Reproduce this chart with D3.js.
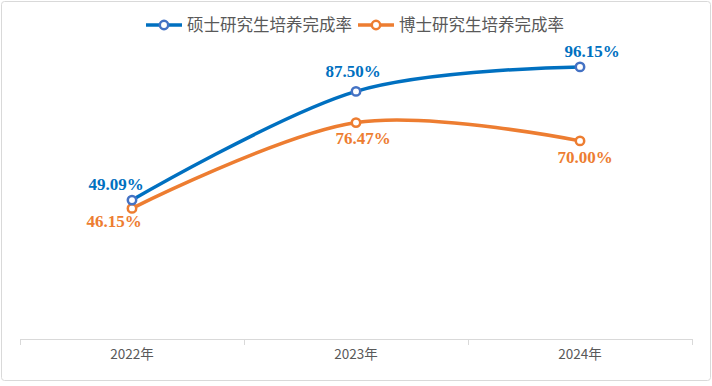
<!DOCTYPE html>
<html>
<head>
<meta charset="utf-8">
<script src="https://cdn.jsdelivr.net/npm/d3@7"></script>
<style>
  body { margin: 0; background: #fff; }
  #chart { width: 712px; height: 386px; }
  .x-axis .domain { stroke: #d9d9d9; }
  .x-axis text { fill: #595959; font-family: "Noto Sans CJK SC", "Noto Sans", sans-serif; font-size: 13.5px; }
</style>
</head>
<body>
<div id="chart"></div>
<script>
// data
var years = ["2022年", "2023年", "2024年"];
var seriesNames = ["硕士研究生培养完成率", "博士研究生培养完成率"];
var masterRate = [49.09, 87.50, 96.15];
var doctorRate = [46.15, 76.47, 70.00];

var width = 712, height = 386;
var margin = {top: 56, right: 20, bottom: 47, left: 20};

var svg = d3.select("#chart").append("svg")
    .attr("width", width)
    .attr("height", height);

// outer border
svg.append("rect")
    .attr("x", 1.5).attr("y", 1.5)
    .attr("width", width - 3).attr("height", 379)
    .attr("rx", 3)
    .attr("fill", "#fff")
    .attr("stroke", "#d9d9d9")
    .attr("stroke-width", 1);

// scales
var x = d3.scaleBand().domain(years).range([margin.left, width - margin.right]).padding(0);
var y = d3.scaleLinear().domain([0, 100]).range([height - margin.bottom, margin.top]);
var cx = function(d) { return x(d) + x.bandwidth() / 2; };

// x axis
var xAxis = d3.axisBottom(x).tickSize(0).tickPadding(10);
var axisG = svg.append("g")
    .attr("class", "x-axis")
    .attr("transform", "translate(0," + y(0) + ")")
    .call(xAxis);
axisG.select(".domain").attr("d", "M" + margin.left + ",0.5H" + (width - margin.right));

// boundary ticks between categories
var bounds = years.map(function(d) { return x(d); }).concat([x(years[years.length - 1]) + x.bandwidth()]);
axisG.selectAll("line.bound").data(bounds).enter().append("line")
    .attr("class", "bound")
    .attr("x1", function(d) { return Math.round(d) + 0.5; })
    .attr("x2", function(d) { return Math.round(d) + 0.5; })
    .attr("y1", 0).attr("y2", 6)
    .attr("stroke", "#d9d9d9");

var series = [
    {name: seriesNames[0], values: masterRate, color: "#0070C0", marker: "#4472C4",
     labelDx: [-16, -3, 12], labelDy: [-10, -14, -10]},
    {name: seriesNames[1], values: doctorRate, color: "#ED7D31", marker: "#ED7D31",
     labelDx: [-18, 7, 5], labelDy: [19, 21, 22]}
];

var line = d3.line()
    .x(function(d) { return cx(d.year); })
    .y(function(d) { return y(d.value); })
    .curve(d3.curveCardinal.tension(0));

// draw doctor first so master sits on top
series.slice().reverse().forEach(function(s) {
    var pts = years.map(function(yr, i) { return {year: yr, value: s.values[i]}; });
    svg.append("path")
        .datum(pts)
        .attr("fill", "none")
        .attr("stroke", s.color)
        .attr("stroke-width", 3.5)
        .attr("stroke-linecap", "round")
        .attr("d", line);
    svg.selectAll(null).data(pts).enter().append("circle")
        .attr("cx", function(d) { return cx(d.year); })
        .attr("cy", function(d) { return y(d.value); })
        .attr("r", 4.2)
        .attr("fill", "#fff")
        .attr("stroke", s.marker)
        .attr("stroke-width", 2.5);
    svg.selectAll(null).data(pts).enter().append("text")
        .attr("x", function(d, i) { return cx(d.year) + s.labelDx[i]; })
        .attr("y", function(d, i) { return y(d.value) + s.labelDy[i]; })
        .attr("text-anchor", "middle")
        .attr("fill", s.color)
        .style("font-family", "'Liberation Serif', 'Times New Roman', serif")
        .style("font-weight", "bold")
        .style("font-size", "17px")
        .text(function(d) { return d.value.toFixed(2) + "%"; });
});

// legend
var legend = svg.append("g").attr("class", "legend");
var lx = 146;
series.forEach(function(s) {
    var g = legend.append("g").attr("transform", "translate(" + lx + ",25)");
    g.append("line").attr("x1", 0).attr("x2", 36).attr("y1", 0).attr("y2", 0)
        .attr("stroke", s.color).attr("stroke-width", 3.5);
    g.append("circle").attr("cx", 18).attr("cy", 0).attr("r", 4.2)
        .attr("fill", "#fff").attr("stroke", s.marker).attr("stroke-width", 2.5);
    var t = g.append("text").attr("x", 41).attr("y", 0).attr("dy", "0.36em")
        .attr("fill", "#595959")
        .style("font-family", "'Noto Sans CJK SC', sans-serif")
        .style("font-size", "16.5px")
        .text(s.name);
    lx += 41 + t.node().getComputedTextLength() + 6;
});
</script>
</body>
</html>
